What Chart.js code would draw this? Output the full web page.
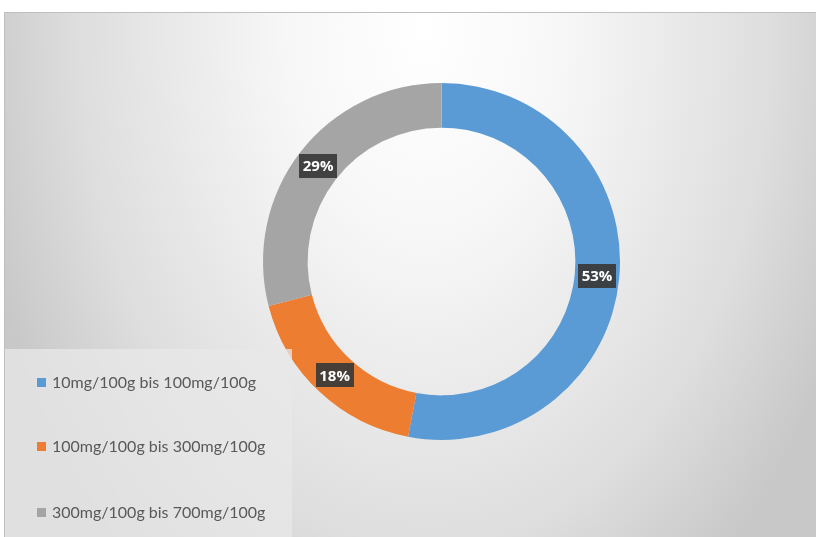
<!DOCTYPE html>
<html>
<head>
<meta charset="utf-8">
<script src="https://cdn.jsdelivr.net/npm/chart.js@4.4.1/dist/chart.umd.min.js"></script>
<style>
    html, body { margin: 0; padding: 0; background: #ffffff; }
    #wrap { position: relative; width: 816px; height: 537px; }
    #legend {
        position: absolute; left: 5px; top: 349px; width: 287px; height: 188px;
        background: rgba(232, 232, 232, 0.75);
        font-family: Lato, "Liberation Sans", sans-serif; font-size: 16px; color: #595959;
    }
    .item { position: absolute; left: 32px; white-space: nowrap; }
    .swatch { display: inline-block; width: 9px; height: 9px; margin-right: 6px; vertical-align: 1px; }
</style>
</head>
<body>
<div id="wrap">
    <canvas id="donutChart" width="816" height="537"></canvas>
    <div id="legend"></div>
</div>
<script>
const categories = ['10mg/100g bis 100mg/100g', '100mg/100g bis 300mg/100g', '300mg/100g bis 700mg/100g'];
const shares = [53, 18, 29];
const colors = ['#5b9bd5', '#ed7d31', '#a5a5a5'];

// grey radial fill behind the plot (stretched vertically), plus the thin frame
const backdrop = {
    id: 'backdrop',
    beforeDraw(chart) {
        const ctx = chart.ctx;
        ctx.save();
        ctx.beginPath();
        ctx.rect(4, 12, 812, 525);
        ctx.clip();
        ctx.translate(425, 30);
        ctx.scale(1, 1.5);
        const g = ctx.createRadialGradient(0, 0, 0, 0, 0, 460);
        g.addColorStop(0, '#ffffff');
        g.addColorStop(0.3, '#f7f7f7');
        g.addColorStop(0.75, '#dedede');
        g.addColorStop(1, '#c8c8c8');
        ctx.fillStyle = g;
        ctx.fillRect(-430, -30, 900, 400);
        ctx.restore();

        ctx.save();
        ctx.strokeStyle = '#bfbfbf';
        ctx.lineWidth = 1;
        ctx.beginPath();
        ctx.moveTo(4.5, 537);
        ctx.lineTo(4.5, 12.5);
        ctx.lineTo(816, 12.5);
        ctx.stroke();
        ctx.restore();
    }
};

// percentage tags sitting in the middle of each ring segment
const valueTags = {
    id: 'valueTags',
    afterDatasetsDraw(chart) {
        const ctx = chart.ctx;
        const meta = chart.getDatasetMeta(0);
        ctx.save();
        ctx.font = 'bold 15px "Open Sans", sans-serif';
        ctx.textAlign = 'center';
        ctx.textBaseline = 'middle';
        meta.data.forEach(function(arc, i) {
            const mid = (arc.startAngle + arc.endAngle) / 2;
            const r = (arc.innerRadius + arc.outerRadius) / 2;
            const x = arc.x + Math.cos(mid) * r;
            const y = arc.y + Math.sin(mid) * r;
            const text = shares[i] + '%';
            const w = ctx.measureText(text).width + 7;
            ctx.fillStyle = 'rgba(56, 56, 56, 0.92)';
            ctx.fillRect(Math.round(x - w / 2), Math.round(y - 12), Math.round(w), 24);
            ctx.fillStyle = '#ffffff';
            ctx.fillText(text, x, y + 1);
        });
        ctx.restore();
    }
};

new Chart(document.getElementById('donutChart').getContext('2d'), {
    type: 'doughnut',
    data: {
        labels: categories,
        datasets: [{
            data: shares,
            backgroundColor: colors,
            borderWidth: 0
        }]
    },
    options: {
        responsive: false,
        animation: false,
        cutout: '75%',
        layout: { padding: { left: 263, right: 196, top: 83, bottom: 97 } },
        plugins: {
            legend: { display: false },
            tooltip: { enabled: false }
        }
    },
    plugins: [backdrop, valueTags]
});

// legend rows
const legend = document.getElementById('legend');
const rowTops = [23, 87, 153];
categories.forEach(function(name, i) {
    const item = document.createElement('div');
    item.className = 'item';
    item.style.top = rowTops[i] + 'px';
    item.innerHTML = '<span class="swatch" style="background:' + colors[i] + '"></span>' + name;
    legend.appendChild(item);
});
</script>
</body>
</html>
